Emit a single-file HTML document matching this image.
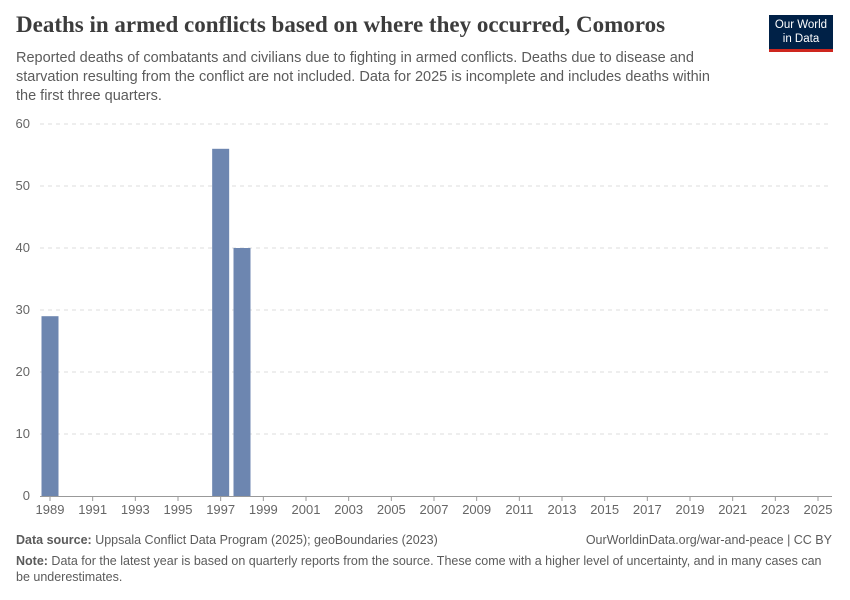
<!DOCTYPE html>
<html><head><meta charset="utf-8"><style>
body{margin:0;width:850px;height:600px;background:#fff;font-family:"Liberation Sans",sans-serif;position:relative;overflow:hidden}
.t{position:absolute;margin:0}
</style></head><body>
<div class="t" style="left:16px;top:12px;font-family:'Liberation Serif',serif;font-size:23px;color:#3c3c3c;font-weight:bold">Deaths in armed conflicts based on where they occurred, Comoros</div>
<div class="t" style="left:16px;top:49px;width:705px;font-size:14.5px;line-height:19px;color:#5b5b5b">Reported deaths of combatants and civilians due to fighting in armed conflicts. Deaths due to disease and starvation resulting from the conflict are not included. Data for 2025 is incomplete and includes deaths within the first three quarters.</div>
<div class="t" style="left:769px;top:15px;width:64px;height:37px;background:#002147;border-bottom:3px solid #ce261e;color:#fff;font-size:11.5px;line-height:14px;text-align:center;padding-top:3px;box-sizing:border-box">Our World<br>in Data</div>
<svg id="chart" width="850" height="600" style="position:absolute;left:0;top:0"></svg>
<div class="t" style="left:16px;top:533px;font-size:12.5px;color:#5b5b5b"><b>Data source:</b> Uppsala Conflict Data Program (2025); geoBoundaries (2023)</div>
<div class="t" style="right:18px;top:533px;font-size:12.5px;color:#5b5b5b">OurWorldinData.org/war-and-peace | CC BY</div>
<div class="t" style="left:16px;top:553px;width:810px;font-size:12.5px;line-height:16px;color:#5b5b5b"><b>Note:</b> Data for the latest year is based on quarterly reports from the source. These come with a higher level of uncertainty, and in many cases can be underestimates.</div>
<script>
const years=[1989,1997,1998];
const deaths=[29,56,40];
const yTicks=[0,10,20,30,40,50,60];
const xTickYears=[1989,1991,1993,1995,1997,1999,2001,2003,2005,2007,2009,2011,2013,2015,2017,2019,2021,2023,2025];
const svg=document.getElementById('chart');
const NS='http://www.w3.org/2000/svg';
const x=y=>50+(y-1989)*(818-50)/36;
const yS=v=>496-v*(496-124)/60;
function mk(tag,a){const e=document.createElementNS(NS,tag);for(const k in a)e.setAttribute(k,a[k]);svg.appendChild(e);return e;}
yTicks.forEach(v=>{
 if(v>0){const g=mk('line',{x1:40,x2:832,y1:yS(v),y2:yS(v),stroke:'#dddddd','stroke-dasharray':'4,4'});
 
 }
 const t=mk('text',{x:30,y:yS(v)+4,'text-anchor':'end','font-size':13,fill:'#666','font-family':'Liberation Sans,sans-serif'});
 t.textContent=v;
 
 
});
const ax=mk('line',{x1:40,x2:832,y1:496.5,y2:496.5,stroke:'#999'});


xTickYears.forEach(yr=>{
 const tk=mk('line',{x1:x(yr),x2:x(yr),y1:496,y2:501,stroke:'#999'});
 
 
 const t=mk('text',{x:x(yr),y:514,'text-anchor':'middle','font-size':13,fill:'#666','font-family':'Liberation Sans,sans-serif'});
 t.textContent=yr;
 
 
});
years.forEach((yr,i)=>{
 const b=mk('rect',{x:x(yr)-8.5,width:17,y:yS(deaths[i]),height:496-yS(deaths[i]),fill:'#6d86b0'});
 
 
});
</script>
</body></html>
